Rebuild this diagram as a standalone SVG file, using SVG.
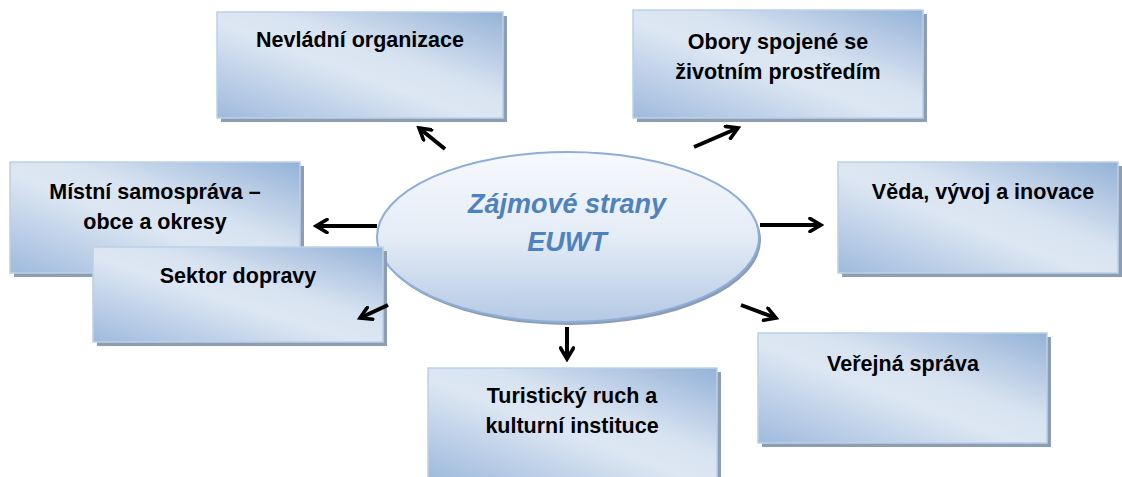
<svg xmlns="http://www.w3.org/2000/svg" width="1122" height="477" viewBox="0 0 1122 477">
<defs>
<linearGradient id="boxg" x1="0" y1="1" x2="1" y2="0">
<stop offset="0" stop-color="#9FBADD"/>
<stop offset="0.45" stop-color="#DDE7F3"/>
<stop offset="0.6" stop-color="#D8E3F1"/>
<stop offset="1" stop-color="#94B2D7"/>
</linearGradient>
<linearGradient id="ellg" x1="0" y1="0" x2="0" y2="1">
<stop offset="0" stop-color="#F7F9FD"/>
<stop offset="0.5" stop-color="#E4ECF6"/>
<stop offset="1" stop-color="#B4C9E4"/>
</linearGradient>
<marker id="ah" viewBox="0 0 16 16" refX="13" refY="8" markerWidth="16" markerHeight="16" markerUnits="userSpaceOnUse" orient="auto">
<path d="M2,1.5 L13,8 L2,14.5" fill="none" stroke="#000" stroke-width="3.6" stroke-linecap="round" stroke-linejoin="miter"/>
</marker>
</defs>
<style>
.sh{fill:#8D9DB2}
.bx{fill:url(#boxg);stroke:#BCD0E8;stroke-width:1.5}
.t{font-family:"Liberation Sans",Arial,sans-serif;font-weight:bold;font-size:21.5px;fill:#000;text-anchor:middle}
.et{font-family:"Liberation Sans",Arial,sans-serif;font-weight:bold;font-style:italic;font-size:27px;fill:#4F81BD;text-anchor:middle}
.c{stroke:#000;stroke-width:4;fill:none;marker-end:url(#ah)}
</style>
<rect width="1122" height="477" fill="#fff"/>
<g id="center">
<ellipse cx="570" cy="240" rx="191" ry="85" fill="#8C9CB4"/>
<ellipse cx="568" cy="237" rx="191" ry="85" fill="url(#ellg)" stroke="#8DAED6" stroke-width="2"/>
<text class="et" x="567" y="213">Zájmové strany</text>
<text class="et" x="567" y="251">EUWT</text>
</g>
<g id="n-nevladni">
<rect class="sh" x="221" y="16" width="286" height="106"/>
<rect class="bx" x="217" y="12" width="286" height="106"/>
<text class="t" x="360" y="47">Nevládní organizace</text>
</g>
<g id="n-obory">
<rect class="sh" x="637" y="14" width="290" height="108"/>
<rect class="bx" x="633" y="10" width="290" height="108"/>
<text class="t" x="778" y="49">Obory spojené se</text>
<text class="t" x="778" y="79">životním prostředím</text>
</g>
<g id="n-mistni">
<rect class="sh" x="14" y="166" width="290" height="111"/>
<rect class="bx" x="10" y="162" width="290" height="111"/>
<text class="t" x="155" y="199">Místní samospráva –</text>
<text class="t" x="155" y="229">obce a okresy</text>
</g>
<g id="n-sektor">
<rect class="sh" x="97" y="251" width="290" height="95"/>
<rect class="bx" x="93" y="247" width="290" height="95"/>
<text class="t" x="238" y="283">Sektor dopravy</text>
</g>
<g id="n-veda">
<rect class="sh" x="842" y="166" width="280" height="111"/>
<rect class="bx" x="838" y="162" width="280" height="111"/>
<text class="t" x="983" y="199">Věda, vývoj a inovace</text>
</g>
<g id="n-verejna">
<rect class="sh" x="762" y="337" width="289" height="110"/>
<rect class="bx" x="758" y="333" width="289" height="110"/>
<text class="t" x="903" y="371">Veřejná správa</text>
</g>
<g id="n-turisticky">
<rect class="sh" x="432" y="372" width="289" height="110"/>
<rect class="bx" x="428" y="368" width="289" height="110"/>
<text class="t" x="572" y="403">Turistický ruch a</text>
<text class="t" x="572" y="433">kulturní instituce</text>
</g>
<g id="connectors">
<line class="c" x1="445" y1="149" x2="419" y2="128"/>
<line class="c" x1="377" y1="226" x2="316" y2="226"/>
<line class="c" x1="388" y1="305" x2="360" y2="318"/>
<line class="c" x1="694" y1="147" x2="738" y2="128"/>
<line class="c" x1="760" y1="225" x2="821" y2="225"/>
<line class="c" x1="741" y1="305" x2="776" y2="318"/>
<line class="c" x1="567" y1="327" x2="567" y2="359"/>
</g>
</svg>
